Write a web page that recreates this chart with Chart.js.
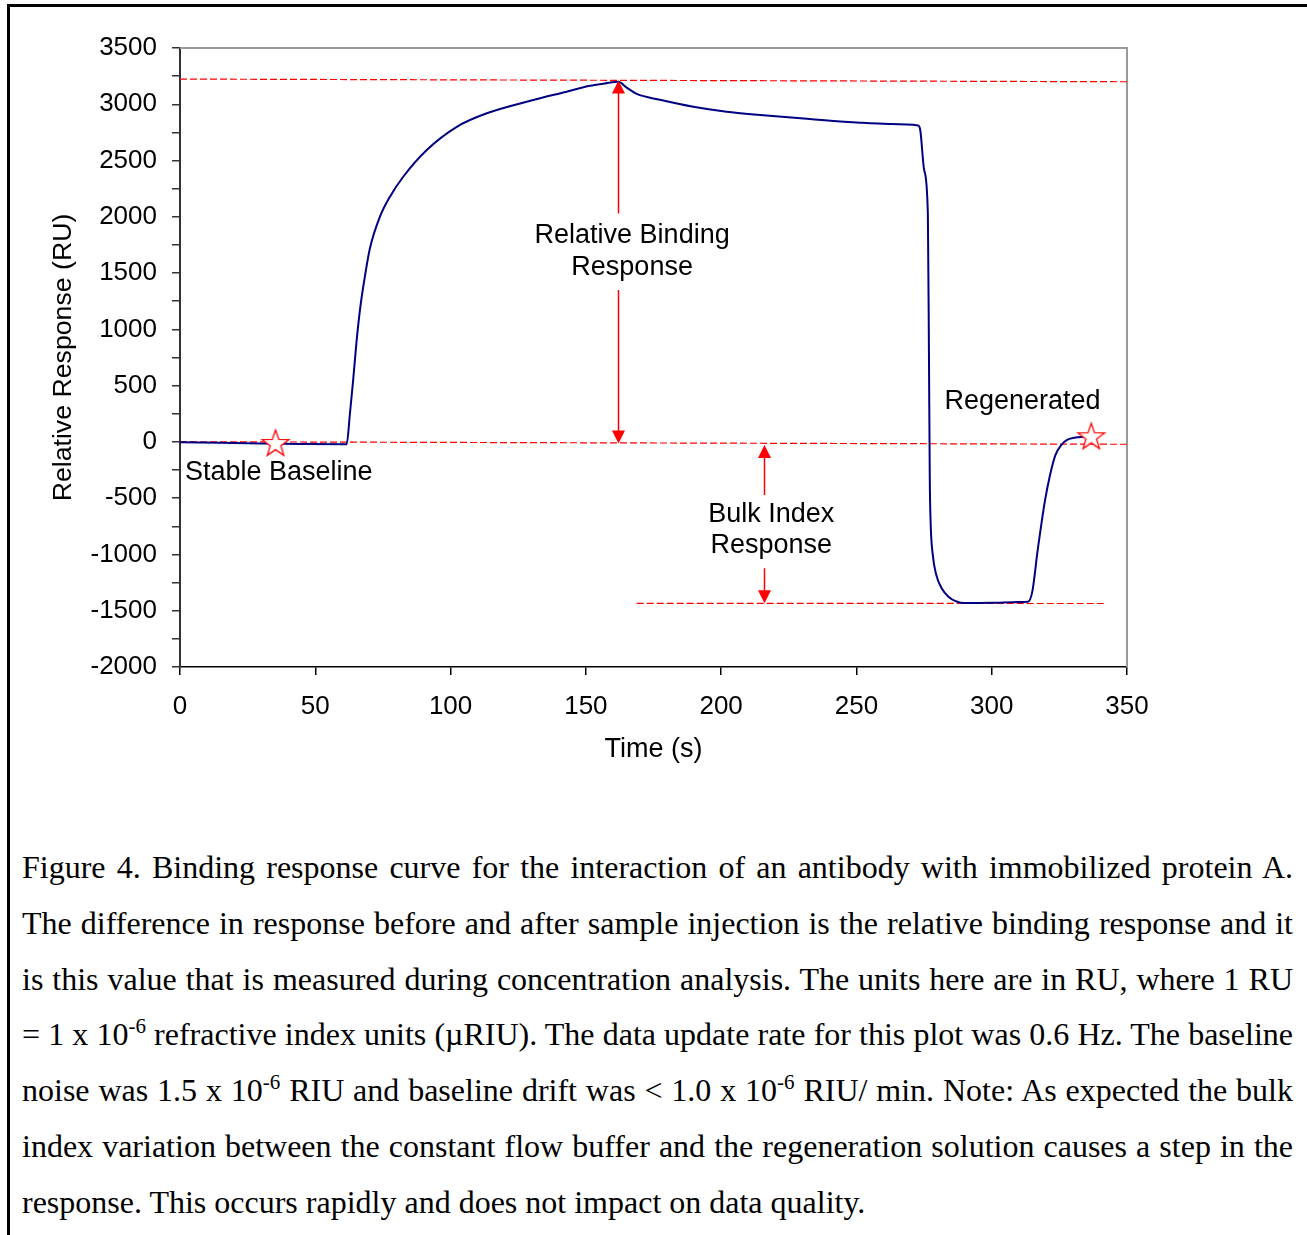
<!DOCTYPE html>
<html>
<head>
<meta charset="utf-8">
<title>Binding response curve</title>
<script src="https://cdn.jsdelivr.net/npm/chart.js@4.4.1/dist/chart.umd.min.js"></script>
<style>
  body { margin: 0; background: #fff; }
  #page { position: relative; width: 1307px; height: 1235px; overflow: hidden; }
  #frame { position: absolute; left: 7px; top: 4px; width: 1400px; height: 1400px;
           border-left: 3px solid #000; border-top: 3px solid #000; }
  #chartBox { position: absolute; left: 0; top: 0; width: 1307px; height: 800px; }
  #caption { position: absolute; left: 22px; top: 840px; width: 1271px;
             font-family: "Liberation Serif", "Times New Roman", serif; font-size: 32px; color: #000; }
  #caption div { height: 55.8px; line-height: 55.8px; white-space: nowrap;
                 text-align: justify; text-align-last: justify; }
  #caption div.last { text-align: left; text-align-last: left; }
  #caption sup { font-size: 21px; line-height: 0; vertical-align: 12px; }
</style>
</head>
<body>
<div id="page">
  <div id="frame"></div>
  <div id="chartBox"><canvas id="sprChart"></canvas></div>
  <div id="caption">
    <div>Figure 4. Binding response curve for the interaction of an antibody with immobilized protein A.</div>
    <div>The difference in response before and after sample injection is the relative binding response and it</div>
    <div>is this value that is measured during concentration analysis. The units here are in RU, where 1 RU</div>
    <div>= 1 x 10<sup>-6</sup> refractive index units (&micro;RIU). The data update rate for this plot was 0.6 Hz. The baseline</div>
    <div>noise was 1.5 x 10<sup>-6</sup> RIU and baseline drift was &lt; 1.0 x 10<sup>-6</sup> RIU/ min. Note: As expected the bulk</div>
    <div>index variation between the constant flow buffer and the regeneration solution causes a step in the</div>
    <div class="last">response. This occurs rapidly and does not impact on data quality.</div>
  </div>
</div>
<script>
// sensorgram: time (s) and relative response (RU)
var timeS = [0, 15, 30, 45, 61.6, 62.8, 64.0, 65.2, 66.5, 68.4, 70.2, 73.9, 77.6, 82.5, 91.2,
  102.3, 113.4, 130.6, 142.9, 151.5, 157, 162, 165.1, 168.8, 177.4, 189.7, 202, 214.4, 232.8,
  251.3, 262, 272.8, 273.6, 275.0, 276.4, 276.8, 277.1, 277.4, 278.2, 279.5, 281.5, 284,
  287, 290, 300, 310, 313.4, 315, 317, 319.7, 321.5, 323.5, 325.7, 328, 331, 334]
var responseRU = [-2, -8, -14, -18, -20, 250, 550, 880, 1172, 1480, 1720, 2001, 2179, 2356, 2594,
  2800, 2920, 3038, 3112, 3165, 3185, 3200, 3148, 3092, 3040, 2978, 2934, 2905, 2869,
  2836, 2825, 2812, 2770, 2420, 2030, 800, -300, -700, -1000, -1180, -1300, -1375,
  -1418, -1432, -1430, -1422, -1420, -1330, -960, -520, -300, -120, -28, 20, 40, 46]

// red dashed reference levels [x0, y0, x1, y1]
var refTop = [0, 3224, 350, 3200]
var refBaseline = [0, 2, 350, -21]
var refBulk = [168.8, -1434, 342, -1436]

// star markers (stable baseline, regenerated)
var starTime = [35.3, 336.8]
var starRU = [-19, 41]

// double arrows: x, tip values, and the text gap
var arrowTime = [162.0, 216.0]
var arrowTop = [3211, -28]
var arrowBottom = [-15, -1434]
var arrowGapTop = [2030, -472]
var arrowGapBottom = [1350, -1123]

// text labels
var noteText = [['Relative Binding', 'Response'], ['Bulk Index', 'Response'], ['Stable Baseline'], ['Regenerated']]
var noteTime = [167.1, 218.5, 1.85, 311.4]
var noteRU = [[1838, 1545], [-641, -924], [-270], [355]]
var noteAlign = ['center', 'center', 'left', 'center']

var xTicks = { min: 0, max: 350, step: 50 }
var yTicks = { min: -2000, max: 3500, step: 250, labelEvery: 500 }

var sansFont = '"Liberation Sans", Arial, sans-serif'

var toPoints = (xs, ys) => xs.map((x, i) => ({ x: x, y: ys[i] }))
var segment = (r) => [{ x: r[0], y: r[1] }, { x: r[2], y: r[3] }]

var fnMakeStar = (r) => {
  var c = document.createElement('canvas')
  var s = Math.ceil(r * 2 + 4)
  c.width = s
  c.height = s
  var g = c.getContext('2d')
  g.translate(s / 2, s / 2)
  g.beginPath()
  for (var i = 0; i < 10; i++) {
    var rad = i % 2 ? r * 0.4 : r
    var a = -Math.PI / 2 + i * Math.PI / 5
    g.lineTo(rad * Math.cos(a), rad * Math.sin(a))
  }
  g.closePath()
  g.fillStyle = '#fff'
  g.fill()
  g.strokeStyle = '#f00'
  g.lineWidth = 1.3
  g.stroke()
  return c
}

// gray top/right edges of the plot box
var plotFrame = {
  id: 'plotFrame',
  beforeDatasetsDraw(chart) {
    var { ctx, chartArea } = chart
    ctx.save()
    ctx.strokeStyle = '#999'
    ctx.lineWidth = 2
    ctx.beginPath()
    ctx.moveTo(chartArea.left, chartArea.top)
    ctx.lineTo(chartArea.right, chartArea.top)
    ctx.lineTo(chartArea.right, chartArea.bottom)
    ctx.stroke()
    ctx.restore()
  }
}

var fnArrowHead = (ctx, px, py, dir) => {
  ctx.beginPath()
  ctx.moveTo(px, py)
  ctx.lineTo(px - 6.5, py - dir * 13)
  ctx.lineTo(px + 6.5, py - dir * 13)
  ctx.closePath()
  ctx.fill()
}

var annotations = {
  id: 'annotations',
  afterDatasetsDraw(chart) {
    var { ctx } = chart
    var xs = chart.scales.x
    var ys = chart.scales.y
    ctx.save()
    ctx.strokeStyle = '#f00'
    ctx.fillStyle = '#f00'
    ctx.lineWidth = 1.5
    arrowTime.forEach((t, i) => {
      var px = Math.round(xs.getPixelForValue(t)) + 0.5
      var yTop = ys.getPixelForValue(arrowTop[i])
      var yBot = ys.getPixelForValue(arrowBottom[i])
      ctx.beginPath()
      ctx.moveTo(px, yTop + 12)
      ctx.lineTo(px, ys.getPixelForValue(arrowGapTop[i]))
      ctx.moveTo(px, ys.getPixelForValue(arrowGapBottom[i]))
      ctx.lineTo(px, yBot - 12)
      ctx.stroke()
      fnArrowHead(ctx, px, yTop, -1)
      fnArrowHead(ctx, px, yBot, 1)
    })
    ctx.fillStyle = '#000'
    ctx.font = '27px ' + sansFont
    ctx.textBaseline = 'middle'
    noteText.forEach((lines, i) => {
      ctx.textAlign = noteAlign[i]
      lines.forEach((s, k) => {
        ctx.fillText(s, xs.getPixelForValue(noteTime[i]), ys.getPixelForValue(noteRU[i][k]))
      })
    })
    ctx.restore()
  }
}

var dashed = (data) => ({
  data: data,
  borderColor: '#ff0000',
  borderWidth: 1.2,
  borderDash: [7, 3],
  pointRadius: 0,
  order: 3
})

var ctxS = document.getElementById('sprChart').getContext('2d')
var sprChart = new Chart(ctxS, {
  type: 'line',
  data: {
    datasets: [
      {
        data: toPoints(starTime, starRU),
        showLine: false,
        pointStyle: fnMakeStar(14),
        pointRadius: 14,
        order: 0
      },
      {
        data: toPoints(timeS, responseRU),
        borderColor: '#000080',
        borderWidth: 2,
        pointRadius: 0,
        cubicInterpolationMode: 'monotone',
        order: 1
      },
      dashed(segment(refTop)),
      dashed(segment(refBaseline)),
      dashed(segment(refBulk))
    ]
  },
  options: {
    responsive: true,
    maintainAspectRatio: false,
    animation: false,
    layout: { padding: { left: 0, top: 48, right: 180, bottom: 0 } },
    plugins: { legend: { display: false }, tooltip: { enabled: false } },
    scales: {
      x: {
        type: 'linear',
        min: xTicks.min,
        max: xTicks.max,
        afterFit: (scale) => { scale.height = 133 },
        ticks: {
          stepSize: xTicks.step,
          autoSkip: false,
          maxRotation: 0,
          padding: 16,
          color: '#000',
          font: { family: sansFont, size: 26 },
          callback: (v) => String(v)
        },
        grid: { drawOnChartArea: false, drawTicks: true, tickLength: 8, tickColor: '#000', lineWidth: 1.5 },
        border: { color: '#000', width: 1.5 },
        title: {
          display: true,
          text: 'Time (s)',
          color: '#000',
          font: { family: sansFont, size: 27 },
          padding: { top: 0, bottom: 34 }
        }
      },
      y: {
        type: 'linear',
        min: yTicks.min,
        max: yTicks.max,
        afterFit: (scale) => { scale.width = 180 },
        ticks: {
          stepSize: yTicks.step,
          autoSkip: false,
          padding: 15,
          color: '#000',
          font: { family: sansFont, size: 26 },
          callback: (v) => (v % yTicks.labelEvery === 0 ? String(v) : '')
        },
        grid: { drawOnChartArea: false, drawTicks: true, tickLength: 8, tickColor: '#333', lineWidth: 1.5 },
        border: { color: '#333', width: 2 },
        title: {
          display: true,
          text: 'Relative Response (RU)',
          color: '#000',
          font: { family: sansFont, size: 26.7 },
          padding: { top: 48, bottom: 0 }
        }
      }
    }
  },
  plugins: [plotFrame, annotations]
})
</script>
</body>
</html>
